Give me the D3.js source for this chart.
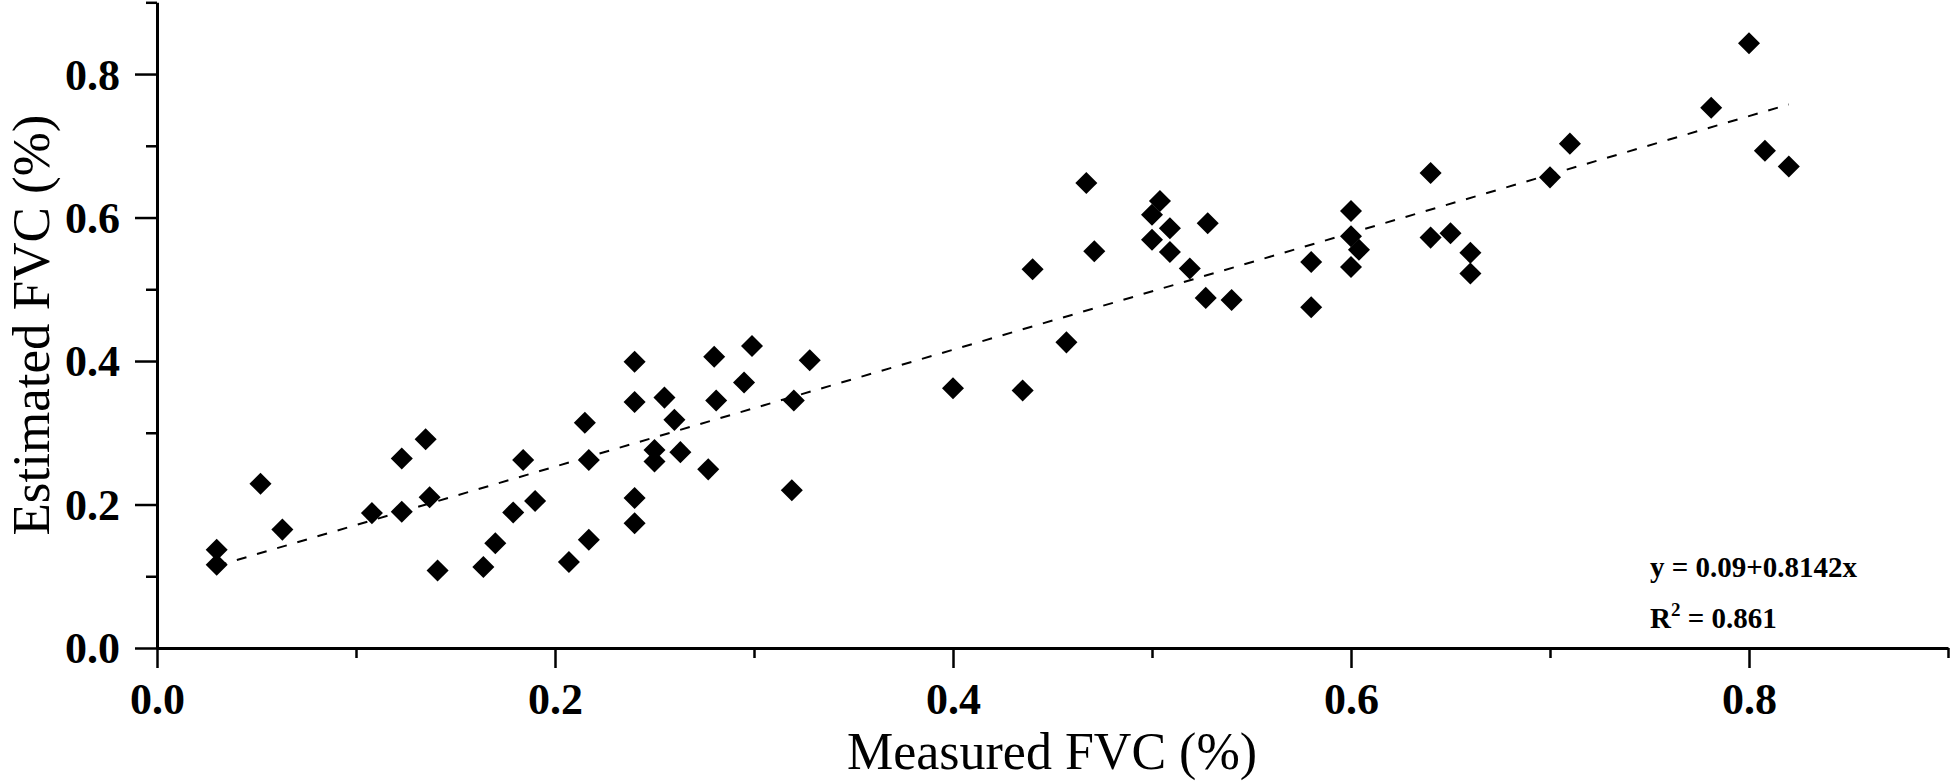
<!DOCTYPE html>
<html>
<head>
<meta charset="utf-8">
<script src="https://cdn.jsdelivr.net/npm/d3@7"></script>
<style>
  html, body { margin: 0; padding: 0; background: #fff; }
  svg { display: block; }
  .axis path, .axis line { stroke: #000; }
  .axis path { stroke-width: 3; }
  .axis line { stroke-width: 2.5; }
  .axis text { font-family: 'Liberation Serif', 'Times New Roman', serif; font-weight: bold; font-size: 44px; fill: #000; }
  .title { font-family: 'Liberation Serif', 'Times New Roman', serif; font-size: 53px; fill: #000; }
  .xtitle { font-size: 52px; }
  .note { font-family: 'Liberation Serif', 'Times New Roman', serif; font-weight: bold; font-size: 29px; fill: #000; }
</style>
</head>
<body>
<svg id="chart" width="1950" height="781"></svg>
<script>
// measured vs estimated FVC
var measured = [
  0.030, 0.030, 0.052, 0.063, 0.108, 0.123, 0.123, 0.135, 0.137, 0.141, 0.184, 0.179, 0.190, 0.170, 0.164, 0.207,
  0.215, 0.217, 0.217, 0.240, 0.240, 0.240, 0.240, 0.255, 0.260, 0.250, 0.250, 0.263, 0.280, 0.281, 0.277, 0.299,
  0.295, 0.328, 0.320, 0.319, 0.400,
  0.467, 0.440, 0.471, 0.457, 0.435, 0.504, 0.500, 0.509, 0.500, 0.509, 0.528, 0.519, 0.527, 0.540, 0.600, 0.600,
  0.604, 0.600, 0.580, 0.580,
  0.640, 0.640, 0.650, 0.660, 0.660, 0.710, 0.700, 0.808, 0.820, 0.781, 0.800
];
var estimated = [
  0.137, 0.116, 0.229, 0.165, 0.188, 0.264, 0.190, 0.291, 0.210, 0.108, 0.262, 0.189, 0.205, 0.146, 0.113, 0.120,
  0.314, 0.262, 0.151, 0.399, 0.343, 0.209, 0.174, 0.349, 0.318, 0.276, 0.260, 0.273, 0.406, 0.345, 0.249, 0.421,
  0.370, 0.401, 0.345, 0.220, 0.362,
  0.648, 0.528, 0.553, 0.426, 0.359, 0.623, 0.604, 0.585, 0.569, 0.552, 0.592, 0.529, 0.488, 0.485, 0.609, 0.574,
  0.555, 0.531, 0.538, 0.475,
  0.662, 0.572, 0.578, 0.551, 0.522, 0.703, 0.656, 0.693, 0.671, 0.753, 0.843
];

// regression line
var fitIntercept = 0.09;
var fitSlope = 0.8142;
var fitRange = [0.03, 0.82];
var fitLabel = 'y = 0.09+0.8142x';
var r2Value = '0.861';

var majorTicks = [0.0, 0.2, 0.4, 0.6, 0.8];
var minorTicks = [0.1, 0.3, 0.5, 0.7, 0.9];

var svg = d3.select('#chart');

var xScale = d3.scaleLinear().domain([0, 0.9]).range([157, 1948]);
var yScale = d3.scaleLinear().domain([0, 0.9]).range([648, 2.3]);

function drawAxes() {
  // minor ticks first, no labels
  svg.append('g')
    .attr('class', 'axis')
    .attr('transform', 'translate(0,648)')
    .call(d3.axisBottom(xScale).tickValues(minorTicks).tickSize(10).tickFormat(''))
    .select('.domain').remove();
  svg.append('g')
    .attr('class', 'axis')
    .attr('transform', 'translate(157,0)')
    .call(d3.axisLeft(yScale).tickValues(minorTicks).tickSize(11).tickFormat(''))
    .select('.domain').remove();

  var xa = svg.append('g')
    .attr('class', 'axis')
    .attr('transform', 'translate(0,648)')
    .call(d3.axisBottom(xScale).tickValues(majorTicks).tickSize(20).tickSizeOuter(0).tickFormat(d3.format('.1f')));
  xa.selectAll('text').attr('y', 66).attr('dy', 0);

  var ya = svg.append('g')
    .attr('class', 'axis')
    .attr('transform', 'translate(157,0)')
    .call(d3.axisLeft(yScale).tickValues(majorTicks).tickSize(22).tickSizeOuter(0).tickFormat(d3.format('.1f')));
  ya.selectAll('text').attr('x', -37).attr('dy', '0.34em');

  svg.append('text')
    .attr('class', 'title xtitle')
    .attr('x', 1052)
    .attr('y', 769)
    .attr('text-anchor', 'middle')
    .text('Measured FVC (%)');

  svg.append('text')
    .attr('class', 'title')
    .attr('transform', 'translate(49,325) rotate(-90)')
    .attr('text-anchor', 'middle')
    .text('Estimated FVC (%)');
}

function drawFit() {
  var line = d3.line()
    .x(d => xScale(d))
    .y(d => yScale(fitIntercept + fitSlope * d));

  svg.append('path')
    .datum(fitRange)
    .attr('d', line)
    .attr('fill', 'none')
    .attr('stroke', '#000')
    .attr('stroke-width', 2)
    .attr('stroke-dasharray', '10,11');

  svg.append('text')
    .attr('class', 'note')
    .attr('x', 1650)
    .attr('y', 577)
    .text(fitLabel);

  var r2 = svg.append('text')
    .attr('class', 'note')
    .attr('x', 1650)
    .attr('y', 628);
  r2.append('tspan').text('R');
  r2.append('tspan').attr('dy', -12).attr('font-size', '19px').text('2');
  r2.append('tspan').attr('dy', 12).text(' = ' + r2Value);
}

function drawPoints() {
  var diamond = d3.symbol().type(d3.symbolSquare).size(243);
  var pts = measured.map((m, i) => ({ x: m, y: estimated[i] }));

  svg.selectAll('.pt')
    .data(pts)
    .enter()
    .append('path')
    .attr('class', 'pt')
    .attr('d', diamond)
    .attr('transform', d => `translate(${xScale(d.x)},${yScale(d.y)}) rotate(45)`)
    .attr('fill', '#000');
}

drawAxes();
drawFit();
drawPoints();
</script>
</body>
</html>
